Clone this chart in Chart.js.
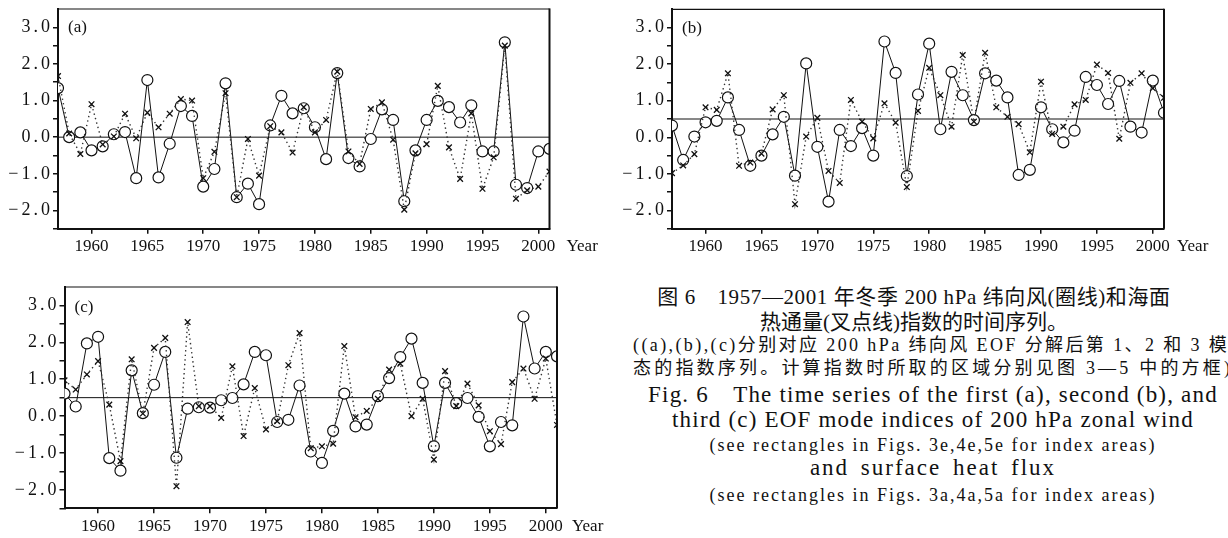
<!DOCTYPE html>
<html>
<head>
<meta charset="utf-8">
<script src="https://cdn.jsdelivr.net/npm/chart.js@4.4.1/dist/chart.umd.min.js"></script>
<style>
html, body { margin: 0; padding: 0; background: #fff; }
body { width: 1228px; height: 538px; position: relative; overflow: hidden; color: #111;
       font-family: "Liberation Serif", "Noto Sans CJK SC", serif; }
.panel { position: absolute; }
.cap { position: absolute; white-space: nowrap; }
.c { left: 614px; width: 600px; text-align: center; }
.ce { left: 633px; width: 600px; text-align: center; }
.zh { font-size: 21px; line-height: 26px; }
.en { font-size: 23px; line-height: 26px; letter-spacing: 1.2px; }
.small { font-size: 18px; line-height: 20px; letter-spacing: 2px; }
</style>
</head>
<body>
<div class="panel" style="left:0;top:0"><canvas id="chartA" width="600" height="262"></canvas></div>
<div class="panel" style="left:614px;top:0"><canvas id="chartB" width="614" height="262"></canvas></div>
<div class="panel" style="left:0;top:262px"><canvas id="chartC" width="614" height="276"></canvas></div>

<div class="cap c zh" style="top:284px;letter-spacing:0.6px">图 6　1957—2001 年冬季 200 hPa 纬向风(圈线)和海面</div>
<div class="cap c zh" style="top:309px">热通量(叉点线)指数的时间序列。</div>
<div class="cap" style="left:633px;top:335px;font-size:18px;line-height:20px;letter-spacing:2.4px">((a),(b),(c)分别对应 200 hPa 纬向风 EOF 分解后第 1、2 和 3 模</div>
<div class="cap" style="left:633px;top:358px;font-size:18px;line-height:20px;letter-spacing:3.2px">态的指数序列。计算指数时所取的区域分别见图 3—5 中的方框)</div>
<div class="cap ce en" style="top:382px">Fig. 6　The time series of the first (a), second (b), and</div>
<div class="cap ce en" style="top:407px">third (c) EOF mode indices of 200 hPa zonal wind</div>
<div class="cap ce small" style="top:435px">(see rectangles in Figs. 3e,4e,5e for index areas)</div>
<div class="cap ce en" style="top:455px;letter-spacing:2px;word-spacing:4px">and surface heat flux</div>
<div class="cap ce small" style="top:485px">(see rectangles in Figs. 3a,4a,5a for index areas)</div>

<script>
// years of the winter series
const years = [1957, 1958, 1959, 1960, 1961, 1962, 1963, 1964, 1965, 1966,
               1967, 1968, 1969, 1970, 1971, 1972, 1973, 1974, 1975, 1976,
               1977, 1978, 1979, 1980, 1981, 1982, 1983, 1984, 1985, 1986,
               1987, 1988, 1989, 1990, 1991, 1992, 1993, 1994, 1995, 1996,
               1997, 1998, 1999, 2000, 2001];
const xTicks = [1960, 1965, 1970, 1975, 1980, 1985, 1990, 1995, 2000];

// (a) first mode: zonal wind (circles) and heat flux (crosses)
const windA = [1.34, 0.00, 0.13, -0.36, -0.25, 0.08, 0.14, -1.12, 1.56, -1.10,
               -0.18, 0.85, 0.58, -1.35, -0.87, 1.47, -1.64, -1.27, -1.83, 0.32,
               1.13, 0.65, 0.79, 0.27, -0.60, 1.75, -0.57, -0.80, -0.05, 0.76,
               0.47, -1.75, -0.36, 0.47, 0.99, 0.82, 0.40, 0.87, -0.39, -0.39,
               2.59, -1.30, -1.39, -0.39, -0.32];
const fluxA = [1.67, 0.10, -0.46, 0.90, -0.20, 0.02, 0.64, -0.03, 0.67, 0.27,
               0.64, 1.04, 1.00, -1.12, -0.40, 1.20, -1.64, -0.05, -1.05, 0.30,
               0.13, -0.42, 0.82, 0.13, 0.47, 1.79, -0.39, -0.73, 0.77, 0.95,
               -0.07, -1.98, -0.44, -0.19, 1.40, -0.28, -1.14, 0.65, -1.41, -0.55,
               2.50, -1.68, -1.45, -1.35, -0.94];

// (b) second mode
const windB = [0.32, -0.62, 0.02, 0.41, 0.45, 1.09, 0.20, -0.78, -0.50, 0.08,
               0.56, -1.05, 2.02, -0.26, -1.76, 0.20, -0.24, 0.25, -0.50, 2.62,
               1.76, -1.06, 1.17, 2.56, 0.22, 1.79, 1.15, 0.47, 1.75, 1.55,
               1.09, -1.03, -0.89, 0.82, 0.22, -0.14, 0.18, 1.65, 1.43, 0.91,
               1.54, 0.29, 0.13, 1.55, 0.67];
const fluxB = [-0.98, -0.77, -0.46, 0.82, 0.75, 1.75, -0.78, -0.69, -0.45, 0.76,
               1.15, -1.83, 0.02, 0.53, -0.92, -1.25, 1.02, 0.43, -0.03, 0.93,
               0.40, -1.36, 0.72, 1.90, 1.15, 0.29, 2.25, 0.43, 2.31, 0.82,
               0.56, 0.36, -0.41, 1.52, 0.09, 0.29, 0.90, 1.02, 1.99, 1.76,
               -0.04, 1.49, 1.75, 1.34, 1.08];

// (c) third mode
const windC = [0.61, 0.26, 1.97, 2.15, -1.14, -1.48, 1.24, 0.08, 0.85, 1.74,
               -1.13, 0.20, 0.24, 0.23, 0.43, 0.49, 0.86, 1.74, 1.65, -0.16,
               -0.10, 0.83, -0.96, -1.27, -0.40, 0.61, -0.28, -0.23, 0.54, 1.03,
               1.60, 2.10, 0.90, -0.82, 0.90, 0.35, 0.49, -0.02, -0.82, -0.16,
               -0.25, 2.70, 1.29, 1.74, 1.62];
const fluxC = [0.97, 0.72, 1.13, 1.49, 0.31, -1.22, 1.54, 0.07, 1.85, 2.12,
               -1.90, 2.55, 0.27, 0.27, -0.05, 1.35, -0.54, 0.76, -0.36, -0.14,
               1.38, 2.25, -0.87, -0.82, -0.75, 1.90, -0.03, 0.14, 0.47, 1.26,
               1.42, 0.00, 0.47, -1.18, 1.22, 0.27, 0.88, 0.29, -0.41, -0.76,
               0.92, 1.29, 0.47, 1.56, -0.24];

// horizontal reference level of each panel
const refA = 0.0;
const refB = 0.5;
const refC = 0.5;

const INK = "#111";
const SERIF = "'Liberation Serif', serif";

function yLabel(v) {
    if (!Number.isInteger(v)) return "";
    return v < 0 ? "\u2212" + (-v).toFixed(1) : v.toFixed(1);
}

// the value labels of the y axis are set wider, like the printed figure
const spacingPlugin = {
    id: "ySpacing",
    beforeDraw(chart) { chart.ctx.letterSpacing = "3px"; },
    beforeDatasetsDraw(chart) { chart.ctx.letterSpacing = "0px"; }
};

// top and right edges of the frame, panel tag and the "Year" word
const framePlugin = {
    id: "frame",
    afterDraw(chart, args, opts) {
        const { ctx, chartArea: a } = chart;
        ctx.save();
        ctx.letterSpacing = "0px";
        ctx.strokeStyle = INK;
        ctx.lineWidth = 1.2;
        ctx.beginPath();
        ctx.moveTo(a.left, a.top);
        ctx.lineTo(a.right, a.top);
        ctx.stroke();
        ctx.lineWidth = 2;
        ctx.beginPath();
        ctx.moveTo(a.right, a.top - 0.6);
        ctx.lineTo(a.right, a.bottom);
        ctx.stroke();

        ctx.fillStyle = INK;
        ctx.font = "17px " + SERIF;
        ctx.textAlign = "left";
        ctx.textBaseline = "middle";
        ctx.fillText(opts.tag, a.left + 10, a.top + opts.tagDy);
        ctx.fillText("Year", a.right + opts.yearDx, chart.scales.x.top + 18);
        ctx.restore();
    }
};

function makePanel(id, tag, wind, flux, ref, box) {
    const pts = arr => arr.map((v, i) => ({ x: years[i], y: v }));
    return new Chart(document.getElementById(id), {
        type: "line",
        data: {
            datasets: [
                {
                    data: pts(flux),
                    borderColor: "#333",
                    borderWidth: 1.4,
                    borderDash: [1.4, 3.2],
                    pointStyle: "crossRot",
                    pointRadius: 4,
                    pointBorderWidth: 1.3,
                    pointBorderColor: INK,
                    clip: 0
                },
                {
                    data: pts(wind),
                    borderColor: INK,
                    borderWidth: 1,
                    pointStyle: "circle",
                    pointRadius: 5.5,
                    pointBackgroundColor: "#fff",
                    pointBorderColor: INK,
                    pointBorderWidth: 1.2,
                    clip: 0
                },
                {
                    data: [{ x: years[0], y: ref }, { x: years[years.length - 1], y: ref }],
                    borderColor: INK,
                    borderWidth: 1,
                    pointRadius: 0,
                    clip: 0
                }
            ]
        },
        options: {
            responsive: false,
            animation: false,
            events: [],
            layout: { padding: { left: 0, top: box.top, right: box.right, bottom: box.bottom } },
            plugins: {
                legend: { display: false },
                tooltip: { enabled: false },
                frame: { tag: tag, tagDy: box.tagDy, yearDx: box.yearDx }
            },
            scales: {
                x: {
                    type: "linear",
                    min: 1957,
                    max: 2001,
                    afterBuildTicks: s => { s.ticks = xTicks.map(v => ({ value: v })); },
                    afterFit: s => { s.height = box.xh; s.paddingLeft = 0; s.paddingRight = 0; },
                    ticks: {
                        z: 1,
                        color: INK,
                        font: { family: SERIF, size: 17 },
                        padding: 3,
                        maxRotation: 0,
                        autoSkip: false,
                        callback: v => String(v)
                    },
                    grid: { drawOnChartArea: false, tickLength: 5, color: INK, lineWidth: 1.5 },
                    border: { color: INK, width: 2 }
                },
                y: {
                    min: -2.5,
                    max: 3.5,
                    afterFit: s => { s.width = box.left; s.paddingTop = 0; s.paddingBottom = 0; },
                    ticks: {
                        stepSize: 0.5,
                        autoSkip: false,
                        color: INK,
                        font: { family: SERIF, size: 18 },
                        padding: 0,
                        callback: yLabel
                    },
                    grid: {
                        drawOnChartArea: false,
                        tickLength: 5,
                        lineWidth: 1.5,
                        color: c => (c.tick && c.tick.value === 3.5) ? "rgba(0,0,0,0)" : INK
                    },
                    border: { color: INK, width: 2 }
                }
            }
        },
        plugins: [spacingPlugin, framePlugin]
    });
}

makePanel("chartA", "(a)", windA, fluxA, refA,
          { left: 58, top: 9, right: 50.5, bottom: 5.3, xh: 28, tagDy: 19, yearDx: 17 });
makePanel("chartB", "(b)", windB, fluxB, refB,
          { left: 58, top: 9.3, right: 64, bottom: 5.3, xh: 28, tagDy: 19, yearDx: 13 });
makePanel("chartC", "(c)", windC, fluxC, refC,
          { left: 64.5, top: 25, right: 57, bottom: 1.7, xh: 28, tagDy: 21, yearDx: 15 });
</script>
</body>
</html>
